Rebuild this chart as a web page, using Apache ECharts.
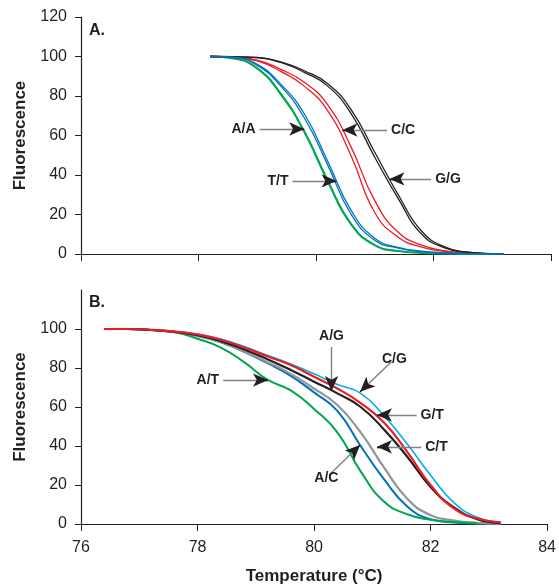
<!DOCTYPE html>
<html>
<head>
<meta charset="utf-8">
<script src="https://cdn.jsdelivr.net/npm/echarts@6/dist/echarts.min.js"></script>
<style>
  html, body { margin: 0; padding: 0; background: #fff; }
  #chart { width: 559px; height: 587px; }
</style>
</head>
<body>
<div id="chart"></div>
<script>
// ---- panel A: homozygous genotypes ----
const topTemps = [78.2, 78.6, 79.0, 79.4, 79.8, 80.2, 80.6, 81.0, 81.4, 81.8, 82.2, 82.6, 83.0, 83.2];
const aaGreen = [100, 99, 94, 81, 62, 37, 15, 4.5, 1.5, 0.6, 0.3, 0.1, 0, 0];
const ttBlue1 = [100, 99.5, 95.5, 85, 69, 45, 20, 7, 3, 1.2, 0.5, 0.2, 0, 0];
const ttBlue2 = [100, 99.6, 96, 86, 71, 47, 22, 8, 3.3, 1.4, 0.6, 0.2, 0, 0];
const ccRed1 = [100, 99.5, 97.8, 92.5, 85, 72.5, 49.5, 21, 8.5, 3.5, 1.3, 0.4, 0.1, 0];
const ccRed2 = [100, 99.6, 98.2, 93.5, 87, 75.5, 54, 27, 11, 4.5, 1.6, 0.5, 0.1, 0];
const ggBlack1 = [100, 99.9, 99.4, 97, 92, 85, 71, 49, 28, 10, 3, 0.8, 0.2, 0];
const ggBlack2 = [100, 99.9, 99.5, 97.3, 92.8, 86.2, 73, 51.5, 30, 11.5, 3.5, 0.9, 0.2, 0];

// ---- panel B: heterozygous genotypes ----
const botTemps = [76.4, 76.8, 77.2, 77.6, 78.0, 78.4, 78.8, 79.2, 79.6, 80.0, 80.4, 80.8, 81.2, 81.6, 82.0, 82.4, 82.8, 83.2];
const atGreen = [null, 100, 99.5, 98.5, 95, 90.5, 83, 74, 68.5, 59, 47, 27, 11.5, 5, 2.2, 1, 0.3, null];
const acBlue = [100, 100, 99.5, 98.4, 96.5, 93.2, 88.3, 82.5, 76, 67.5, 58, 40, 23, 9, 2.5, 0.8, 0.3, 0.1];
const ctGray = [100, 100, 99.5, 98.4, 96.5, 93.3, 88.5, 83, 77, 69.5, 61, 47, 29, 13, 4.5, 1.8, 0.6, 0.2];
const agBlack = [100, 100, 99.5, 98.5, 96.8, 93.8, 89.5, 84.5, 79, 73, 67, 60, 48.5, 34.5, 19, 8.5, 2.5, 0.6];
const gtRed = [100, 100, 99.6, 98.7, 97.2, 94.5, 90.5, 86, 81.5, 75.5, 69.5, 62, 52, 37, 20, 8, 2.8, 0.8];
const cgCyan = [100, 100, 99.6, 98.8, 97.4, 94.8, 91, 86.5, 82, 77, 71.5, 67, 55.5, 41, 25, 11, 3.5, 1];

// axis ticks
const xTicks = [76, 78, 80, 82, 84];
const yTicks = [0, 20, 40, 60, 80, 100, 120];

// arrow labels: text, label end point, arrow tip (data units)
const topArrows = [
  { text: 'A/A', from: [79.04, 63.3], to: [79.80, 63.3] },
  { text: 'T/T', from: [79.60, 37.0], to: [80.35, 37.0] },
  { text: 'C/C', from: [81.21, 62.8], to: [80.45, 62.8] },
  { text: 'G/G', from: [81.96, 38.0], to: [81.25, 38.0] }
];
const botArrows = [
  { text: 'A/T', from: [78.44, 73.8], to: [79.21, 73.8] },
  { text: 'A/G', from: [80.30, 90.8], to: [80.30, 68.2] },
  { text: 'C/G', from: [81.33, 83.2], to: [80.79, 67.8] },
  { text: 'G/T', from: [81.76, 55.9], to: [81.08, 55.9] },
  { text: 'C/T', from: [81.84, 39.6], to: [81.08, 39.6] },
  { text: 'A/C', from: [80.26, 25.1], to: [80.79, 40.5] }
];

const FONT = '"Liberation Sans", Arial, sans-serif';
const INK = '#231f20';

function pairs(temps, vals) {
  return temps.map((t, i) => [t, vals[i]]).filter(p => p[1] != null);
}

function curve(temps, vals, color, width, idx) {
  return {
    type: 'line',
    xAxisIndex: idx,
    yAxisIndex: idx,
    data: pairs(temps, vals),
    showSymbol: false,
    smooth: 0.5,
    silent: true,
    lineStyle: { color: color, width: width }
  };
}

// gray leader lines with their labels
function leaders(arrows, idx) {
  return {
    type: 'line', xAxisIndex: idx, yAxisIndex: idx, data: [], silent: true,
    markLine: {
      silent: true, animation: false, symbol: ['none', 'none'],
      lineStyle: { color: '#808080', width: 1.4, type: 'solid' },
      label: {
        show: true, position: 'start', distance: 4,
        fontFamily: FONT, fontSize: 14, fontWeight: 'bold', color: INK
      },
      data: arrows.map(a => [
        { coord: a.from, label: { formatter: a.text } },
        { coord: a.to }
      ])
    }
  };
}

// black arrow heads at the tips
function heads(arrows, idx) {
  return {
    type: 'line', xAxisIndex: idx, yAxisIndex: idx, data: [], silent: true,
    markLine: {
      silent: true, animation: false,
      symbol: ['none', 'arrow'], symbolSize: [10, 15],
      lineStyle: { color: INK, width: 1.4, type: 'solid' },
      label: { show: false },
      data: arrows.map(a => [
        { coord: [a.to[0] - (a.to[0] - a.from[0]) * 0.12, a.to[1] - (a.to[1] - a.from[1]) * 0.12] },
        { coord: a.to }
      ])
    }
  };
}

function xAxis(idx, showLabels) {
  return {
    type: 'value', gridIndex: idx, min: xTicks[0], max: xTicks[xTicks.length - 1], interval: 2,
    axisLine: { lineStyle: { color: INK, width: 1.2 } },
    axisTick: { show: true, length: 7, lineStyle: { color: INK } },
    axisLabel: { show: showLabels, fontFamily: FONT, fontSize: 16, color: INK, margin: 16 },
    splitLine: { show: false },
    name: showLabels ? 'Temperature (\u00B0C)' : '',
    nameLocation: 'middle', nameGap: 44,
    nameTextStyle: { fontFamily: FONT, fontSize: 17, fontWeight: 'bold', color: INK }
  };
}

function yAxis(idx, showMax) {
  return {
    type: 'value', gridIndex: idx, min: yTicks[0], max: yTicks[yTicks.length - 1], interval: 20,
    axisLine: { show: true, lineStyle: { color: INK, width: 1.2 } },
    axisTick: { show: true, length: 6, lineStyle: { color: INK } },
    axisLabel: { fontFamily: FONT, fontSize: 16, color: INK, margin: 14, showMaxLabel: showMax },
    splitLine: { show: false },
    name: 'Fluorescence', nameLocation: 'middle', nameRotate: 90, nameGap: 52,
    nameTextStyle: { fontFamily: FONT, fontSize: 17, fontWeight: 'bold', color: INK }
  };
}

const chart = echarts.init(document.getElementById('chart'), null, { renderer: 'canvas' });
chart.setOption({
  animation: false,
  backgroundColor: '#fff',
  title: [
    { text: 'A.', left: 89, top: 23, padding: 0, textStyle: { fontFamily: FONT, fontSize: 16, fontWeight: 'bold', color: INK } },
    { text: 'B.', left: 89, top: 295, padding: 0, textStyle: { fontFamily: FONT, fontSize: 16, fontWeight: 'bold', color: INK } }
  ],
  grid: [
    { left: 81, top: 17, width: 470, height: 237 },
    { left: 81, top: 290, width: 471, height: 234 }
  ],
  xAxis: [xAxis(0, false), xAxis(1, true)],
  yAxis: [yAxis(0, true), yAxis(1, false)],
  series: [
    curve(topTemps, aaGreen, '#00a651', 2.2, 0),
    curve(topTemps, ccRed1, '#ed1c24', 1.3, 0),
    curve(topTemps, ccRed2, '#ed1c24', 1.3, 0),
    curve(topTemps, ggBlack1, INK, 1.3, 0),
    curve(topTemps, ggBlack2, INK, 1.3, 0),
    curve(topTemps, ttBlue1, '#0072bc', 1.3, 0),
    curve(topTemps, ttBlue2, '#0072bc', 1.3, 0),
    leaders(topArrows, 0),
    heads(topArrows, 0),

    curve(botTemps, acBlue, '#0072bc', 2, 1),
    curve(botTemps, ctGray, '#939598', 2.2, 1),
    curve(botTemps, atGreen, '#00a651', 2, 1),
    curve(botTemps, cgCyan, '#00aeef', 1.6, 1),
    curve(botTemps, agBlack, INK, 2.2, 1),
    curve(botTemps, gtRed, '#ed1c24', 2.2, 1),
    leaders(botArrows, 1),
    heads(botArrows, 1)
  ]
});
</script>
</body>
</html>
